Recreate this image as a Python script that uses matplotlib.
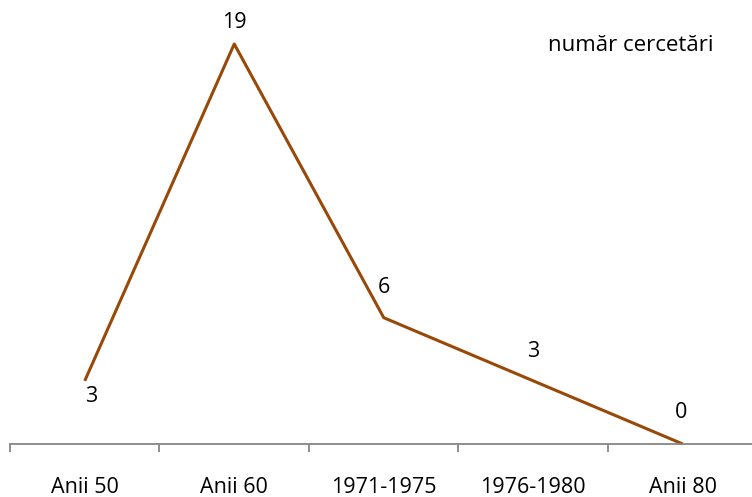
import matplotlib as mpl
import matplotlib.pyplot as plt

mpl.rcParams['font.family'] = ['Open Sans', 'DejaVu Sans']

categories = ['Anii 50', 'Anii 60', '1971-1975', '1976-1980', 'Anii 80']
values = [3, 19, 6, 3, 0]
series_name = 'număr cercetări'

line_color = '#984807'
axis_color = '#868686'
base_fontsize = 15.5

fig = plt.figure(figsize=(7.52, 4.97), dpi=100)
# axes runs a bit past the right edge, like the cropped original
ax = fig.add_axes([10 / 752, 53 / 497, 747.5 / 752, 400 / 497])

x = list(range(len(categories)))
ax.plot(x, values, color=line_color, linewidth=2.2, solid_capstyle='butt', clip_on=False)

ax.set_xlim(-0.5, len(categories) - 0.5)
ax.set_ylim(0, 19)

# data labels: (dx, dy) in pixels relative to the point
label_offsets = [(6, -16), (0, 22), (0, 30), (0, 29), (-2, 31)]
for xi, v, (dx, dy) in zip(x, values, label_offsets):
    ax.annotate(str(v), (xi, v), xytext=(dx, dy), textcoords='offset pixels',
                ha='center', va='center', fontsize=base_fontsize, annotation_clip=False)

for side in ['top', 'right', 'left']:
    ax.spines[side].set_visible(False)
ax.spines['bottom'].set_color(axis_color)
ax.spines['bottom'].set_linewidth(1.3)

ax.set_yticks([])
ax.set_xticks(x, categories, fontsize=base_fontsize)
ax.tick_params(axis='x', which='major', length=0, pad=24)
ax.set_xticks([i - 0.5 for i in range(len(categories) + 1)], minor=True)
ax.tick_params(axis='x', which='minor', length=6, width=1.3, color=axis_color, direction='out')

fig.text(631 / 752, 1 - 46 / 497, series_name, ha='center', va='center', fontsize=16)

plt.savefig('out.png', dpi=100)
